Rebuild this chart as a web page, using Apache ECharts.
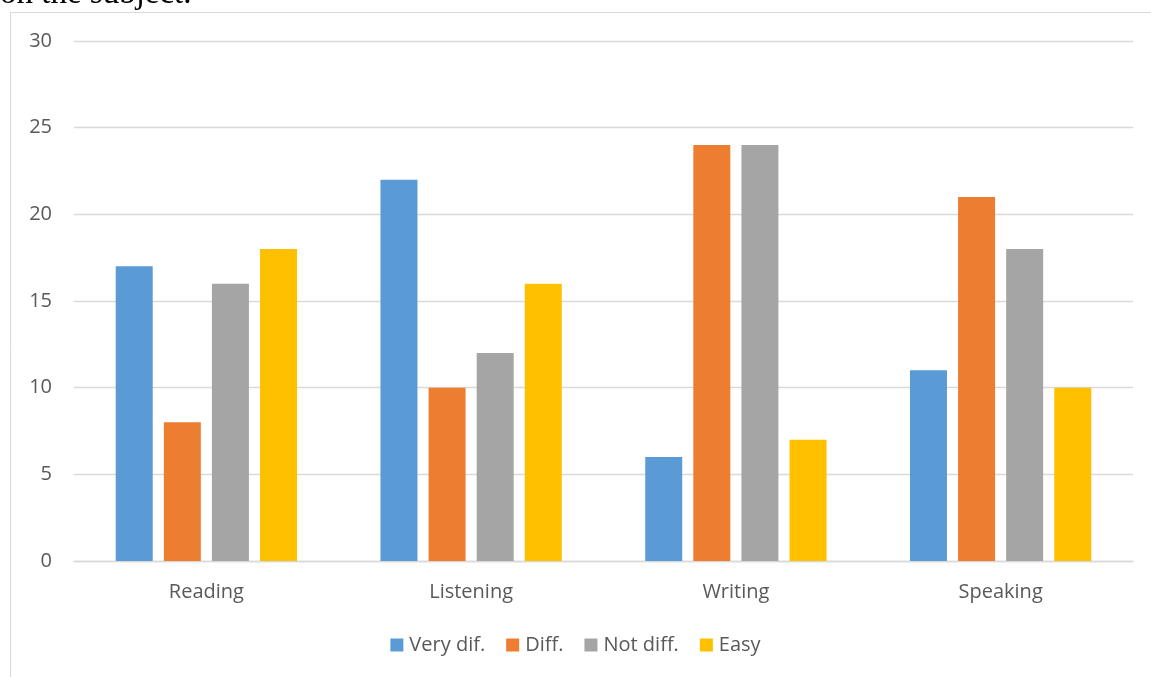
<!DOCTYPE html>
<html>
<head>
<meta charset="utf-8">
<script src="https://cdn.jsdelivr.net/npm/echarts@6/dist/echarts.min.js"></script>
<style>
html,body{margin:0;padding:0;background:#fff;}
#c{width:1151px;height:677px;}
</style>
</head>
<body>
<div id="c"></div>
<script>
const categories = ['Reading', 'Listening', 'Writing', 'Speaking'];
const seriesNames = ['Very dif.', 'Diff.', 'Not diff.', 'Easy'];
const veryDif = [17, 22, 6, 11];
const diff = [8, 10, 24, 21];
const notDiff = [16, 12, 24, 18];
const easy = [18, 16, 7, 10];
const yTicks = [0, 5, 10, 15, 20, 25, 30];
const colors = ['#5B9BD5', '#ED7D31', '#A5A5A5', '#FFC000'];

const values = [veryDif, diff, notDiff, easy];
const chart = echarts.init(document.getElementById('c'), null, {renderer: 'canvas'});
const font = '"Open Sans", sans-serif';
chart.setOption({
  animation: false,
  backgroundColor: '#fff',
  color: colors,
  graphic: [
    {type: 'rect', shape: {x: 10.5, y: 12.5, width: 1160, height: 700}, style: {fill: 'none', stroke: '#D9D9D9', lineWidth: 1}},
    {type: 'text', left: 0, top: -22, style: {text: 'on the subject.', font: '33px "Liberation Serif", serif', fill: '#000'}}
  ],
  grid: {left: 74, right: 18, top: 41, bottom: 116, containLabel: false},
  legend: {
    data: seriesNames,
    bottom: 17,
    left: 'center',
    itemWidth: 13,
    itemHeight: 13,
    itemGap: 21,
    icon: 'rect',
    textStyle: {fontFamily: font, fontSize: 20, color: '#595959', padding: [0, 0, 0, 1]}
  },
  xAxis: {
    type: 'category',
    data: categories,
    axisLine: {lineStyle: {color: '#D9D9D9', width: 1.3}},
    axisTick: {show: false},
    axisLabel: {fontFamily: font, fontSize: 20, color: '#595959', margin: 21}
  },
  yAxis: {
    type: 'value',
    min: yTicks[0],
    max: yTicks[yTicks.length - 1],
    interval: yTicks[1] - yTicks[0],
    axisLine: {show: false},
    axisTick: {show: false},
    axisLabel: {fontFamily: font, fontSize: 20, color: '#595959', margin: 22},
    splitLine: {lineStyle: {color: '#D9D9D9', width: 1.3}}
  },
  series: seriesNames.map((n, i) => ({
    name: n,
    type: 'bar',
    data: values[i],
    barWidth: 37,
    barGap: '30%',
    itemStyle: {color: colors[i]}
  }))
});
</script>
</body>
</html>
